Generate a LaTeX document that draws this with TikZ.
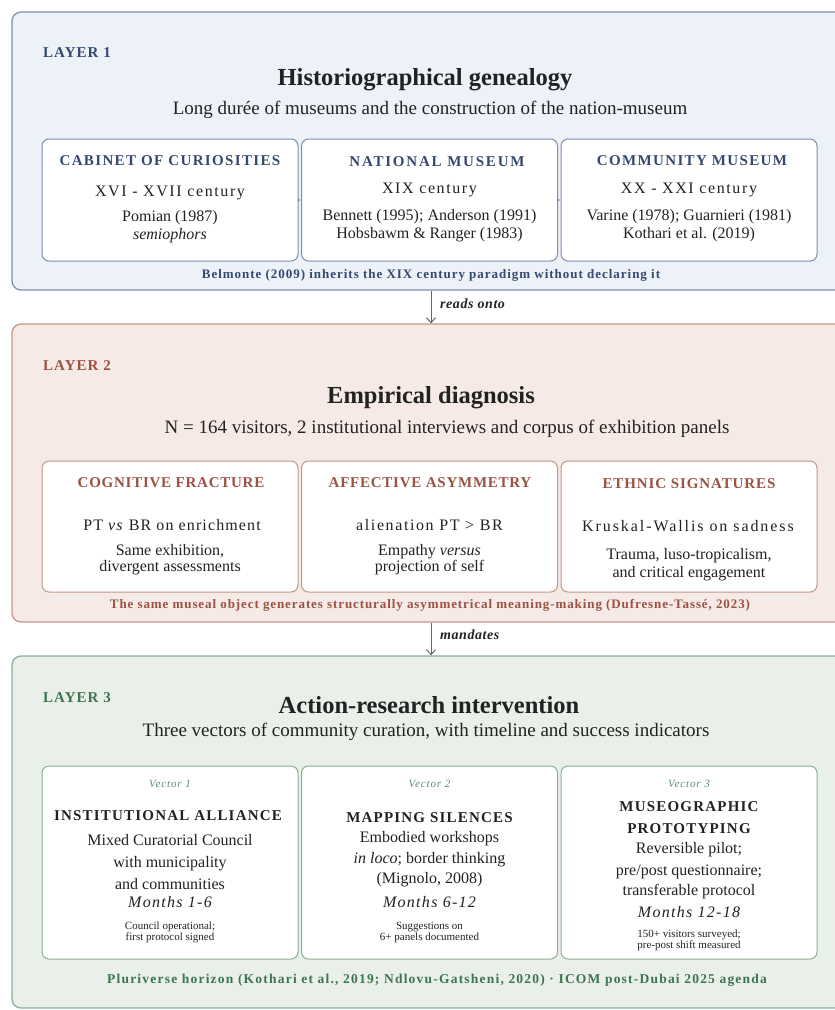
\documentclass[tikz,border=0pt]{standalone}
\usepackage{fontspec}
\setmainfont{Liberation Serif}
\usetikzlibrary{arrows.meta}
\definecolor{Lblue}{HTML}{34496E}
\definecolor{Lonefill}{HTML}{EDF1F8}
\definecolor{Lonedraw}{HTML}{7D90B0}
\definecolor{Lred}{HTML}{9B5244}
\definecolor{Ltwofill}{HTML}{F5EAE5}
\definecolor{Ltwodraw}{HTML}{C4978A}
\definecolor{Lgreen}{HTML}{3E7550}
\definecolor{Lgreenlight}{HTML}{5E8F6C}
\definecolor{Lthreefill}{HTML}{E8F0E9}
\definecolor{Lthreedraw}{HTML}{8BB095}
\definecolor{ink}{HTML}{222222}
\definecolor{arrowgrey}{HTML}{666666}
\newcommand\lsp[2]{{\addfontfeature{LetterSpace=#1}#2}}
\tikzset{
  layerframe/.style={draw, rounded corners=9pt, line width=1.3pt, inner sep=0pt},
  cardbox/.style={draw, fill=white, rounded corners=7pt, line width=1pt, inner sep=0pt, minimum width=256pt},
  txt/.style={anchor=base, inner sep=0pt, text=ink},
  layerlabel/.style={anchor=base west, inner sep=0pt, font=\fontsize{15}{17}\selectfont\bfseries},
  titletxt/.style={txt, font=\fontsize{24.5}{28}\selectfont\bfseries},
  subtxt/.style={txt, font=\fontsize{19}{22}\selectfont},
  headtxt/.style={anchor=base, inner sep=0pt, font=\fontsize{15}{18}\selectfont\bfseries},
  bodytxt/.style={txt, font=\fontsize{16}{19}\selectfont},
  smalltxt/.style={txt, font=\fontsize{11}{13}\selectfont},
  vectortxt/.style={anchor=base, inner sep=0pt, text=Lgreenlight, font=\fontsize{11}{13}\selectfont\itshape},
  foottxt/.style={anchor=base, inner sep=0pt, font=\fontsize{13}{15}\selectfont\bfseries},
  flowarrow/.style={draw=arrowgrey, line width=1pt, -{Straight Barb[length=5pt,width=9pt]}},
  flowlabel/.style={anchor=base west, inner sep=0pt, text=ink, font=\fontsize{14}{16}\selectfont\bfseries\itshape},
  tinyarrow/.style={draw=Lonedraw, line width=0.6pt, -{Latex[length=3pt,width=3pt]}}
}
\begin{document}
\begin{tikzpicture}[x=1pt,y=-1pt]
\clip (0,0) rectangle (835,1010);
\fill[white] (0,0) rectangle (835,1010);

% ---------------- LAYER 1 ----------------
\node[layerframe, draw=Lonedraw, fill=Lonefill, minimum width=838pt, minimum height=278pt] (L1) at (431,151) {};
\node[layerlabel, text=Lblue] (L1lab) at (43,57) {\lsp{7}{LAYER 1}};
\node[titletxt] (L1title) at (425,85) {Historiographical genealogy};
\node[subtxt] (L1sub) at (430,114) {Long durée of museums and the construction of the nation-museum};

\node[cardbox, draw=Lonedraw, minimum height=122pt] (A1) at (170,200) {};
\node[cardbox, draw=Lonedraw, minimum height=122pt] (A2) at (429.5,200) {};
\node[cardbox, draw=Lonedraw, minimum height=122pt] (A3) at (689,200) {};
\draw[tinyarrow] (A1.east) -- (A2.west);
\draw[tinyarrow] (A2.east) -- (A3.west);

\node[headtxt, text=Lblue] (A1h) at (170,165) {\lsp{9}{CABINET OF CURIOSITIES}};
\node[bodytxt] (A1a) at (170,196) {\lsp{10}{XVI - XVII century}};
\node[bodytxt] (A1b) at (170,221) {Pomian (1987)};
\node[bodytxt] (A1c) at (170,239) {\itshape semiophors};

\node[headtxt, text=Lblue] (A2h) at (437,166) {\lsp{12}{NATIONAL MUSEUM}};
\node[bodytxt] (A2a) at (429.5,193) {\lsp{10}{XIX century}};
\node[bodytxt] (A2b) at (429.5,220) {Bennett (1995); Anderson (1991)};
\node[bodytxt] (A2c) at (429.5,238) {Hobsbawm \& Ranger (1983)};

\node[headtxt, text=Lblue] (A3h) at (692,165) {\lsp{9}{COMMUNITY MUSEUM}};
\node[bodytxt] (A3a) at (689,193) {\lsp{10}{XX - XXI century}};
\node[bodytxt] (A3b) at (689,220) {Varine (1978); Guarnieri (1981)};
\node[bodytxt] (A3c) at (689,238) {Kothari et al. (2019)};

\node[foottxt, text=Lblue] (L1foot) at (431,278) {\lsp{7.5}{Belmonte (2009) inherits the XIX century paradigm without declaring it}};

% ---------------- LAYER 2 ----------------
\node[layerframe, draw=Ltwodraw, fill=Ltwofill, minimum width=838pt, minimum height=298pt] (L2) at (431,473) {};
\draw[flowarrow] (L1.south) -- (L2.north);
\node[flowlabel] (F1) at (440,308) {\lsp{4}{reads onto}};

\node[layerlabel, text=Lred] (L2lab) at (43,370) {\lsp{7}{LAYER 2}};
\node[titletxt] (L2title) at (431,403) {Empirical diagnosis};
\node[subtxt] (L2sub) at (447,433) {N = 164 visitors, 2 institutional interviews and corpus of exhibition panels};

\node[cardbox, draw=Ltwodraw, minimum height=131pt] (B1) at (170,526.5) {};
\node[cardbox, draw=Ltwodraw, minimum height=131pt] (B2) at (429.5,526.5) {};
\node[cardbox, draw=Ltwodraw, minimum height=131pt] (B3) at (689,526.5) {};

\node[headtxt, text=Lred] (B1h) at (171,487) {\lsp{5}{COGNITIVE FRACTURE}};
\node[bodytxt] (B1a) at (172,530) {\lsp{7}{PT \textit{vs} BR on enrichment}};
\node[bodytxt] (B1b) at (170,555) {Same exhibition,};
\node[bodytxt] (B1c) at (170,571) {divergent assessments};

\node[headtxt, text=Lred] (B2h) at (430,487) {\lsp{5}{AFFECTIVE ASYMMETRY}};
\node[bodytxt] (B2a) at (429.5,530) {\lsp{10}{alienation PT > BR}};
\node[bodytxt] (B2b) at (429.5,555) {Empathy \textit{versus}};
\node[bodytxt] (B2c) at (429.5,571) {projection of self};

\node[headtxt, text=Lred] (B3h) at (689,488) {\lsp{6}{ETHNIC SIGNATURES}};
\node[bodytxt] (B3a) at (688,531) {\lsp{12}{Kruskal-Wallis on sadness}};
\node[bodytxt] (B3b) at (689,559) {Trauma, luso-tropicalism,};
\node[bodytxt] (B3c) at (689,577) {and critical engagement};

\node[foottxt, text=Lred] (L2foot) at (430,608) {\lsp{7}{The same museal object generates structurally asymmetrical meaning-making (Dufresne-Tassé, 2023)}};

% ---------------- LAYER 3 ----------------
\node[layerframe, draw=Lthreedraw, fill=Lthreefill, minimum width=838pt, minimum height=352pt] (L3) at (431,832) {};
\draw[flowarrow] (L2.south) -- (L3.north);
\node[flowlabel] (F2) at (440,639) {\lsp{4}{mandates}};

\node[layerlabel, text=Lgreen] (L3lab) at (43,702) {\lsp{7}{LAYER 3}};
\node[titletxt] (L3title) at (429,713) {Action-research intervention};
\node[subtxt] (L3sub) at (426,736) {Three vectors of community curation, with timeline and success indicators};

\node[cardbox, draw=Lthreedraw, minimum height=193pt] (C1) at (170,862.5) {};
\node[cardbox, draw=Lthreedraw, minimum height=193pt] (C2) at (429.5,862.5) {};
\node[cardbox, draw=Lthreedraw, minimum height=193pt] (C3) at (689,862.5) {};

\node[vectortxt] (C1v) at (170,787) {\lsp{8}{Vector 1}};
\node[headtxt, text=ink] (C1h) at (168,820) {\lsp{8}{INSTITUTIONAL ALLIANCE}};
\node[bodytxt] (C1a) at (170,845) {Mixed Curatorial Council};
\node[bodytxt] (C1b) at (170,867) {with municipality};
\node[bodytxt] (C1c) at (170,889) {and communities};
\node[bodytxt] (C1d) at (170,907) {\itshape\lsp{8}{Months 1-6}};
\node[smalltxt] (C1e) at (170,929) {Council operational;};
\node[smalltxt] (C1f) at (170,940) {first protocol signed};

\node[vectortxt] (C2v) at (429.5,787) {\lsp{8}{Vector 2}};
\node[headtxt, text=ink] (C2h) at (429.5,822) {\lsp{8}{MAPPING SILENCES}};
\node[bodytxt] (C2a) at (429.5,842) {Embodied workshops};
\node[bodytxt] (C2b) at (429.5,863) {\textit{in loco}; border thinking};
\node[bodytxt] (C2c) at (429.5,883) {(Mignolo, 2008)};
\node[bodytxt] (C2d) at (429.5,907) {\itshape\lsp{8}{Months 6-12}};
\node[smalltxt] (C2e) at (429.5,929) {Suggestions on};
\node[smalltxt] (C2f) at (429.5,940) {6+ panels documented};

\node[vectortxt] (C3v) at (689,787) {\lsp{8}{Vector 3}};
\node[headtxt, text=ink] (C3h) at (689,811) {\lsp{8}{MUSEOGRAPHIC}};
\node[headtxt, text=ink] (C3i) at (689,833) {\lsp{8}{PROTOTYPING}};
\node[bodytxt] (C3a) at (689,853) {Reversible pilot;};
\node[bodytxt] (C3b) at (689,875) {pre/post questionnaire;};
\node[bodytxt] (C3c) at (689,895) {transferable protocol};
\node[bodytxt] (C3d) at (689,917) {\itshape\lsp{8}{Months 12-18}};
\node[smalltxt] (C3e) at (689,937) {150+ visitors surveyed;};
\node[smalltxt] (C3f) at (689,948) {pre-post shift measured};

\node[foottxt, text=Lgreen, font=\fontsize{13.5}{15}\selectfont\bfseries] (L3foot) at (437,983) {\lsp{9}{Pluriverse horizon (Kothari et al., 2019; Ndlovu-Gatsheni, 2020) · ICOM post-Dubai 2025 agenda}};
\end{tikzpicture}
\end{document}
